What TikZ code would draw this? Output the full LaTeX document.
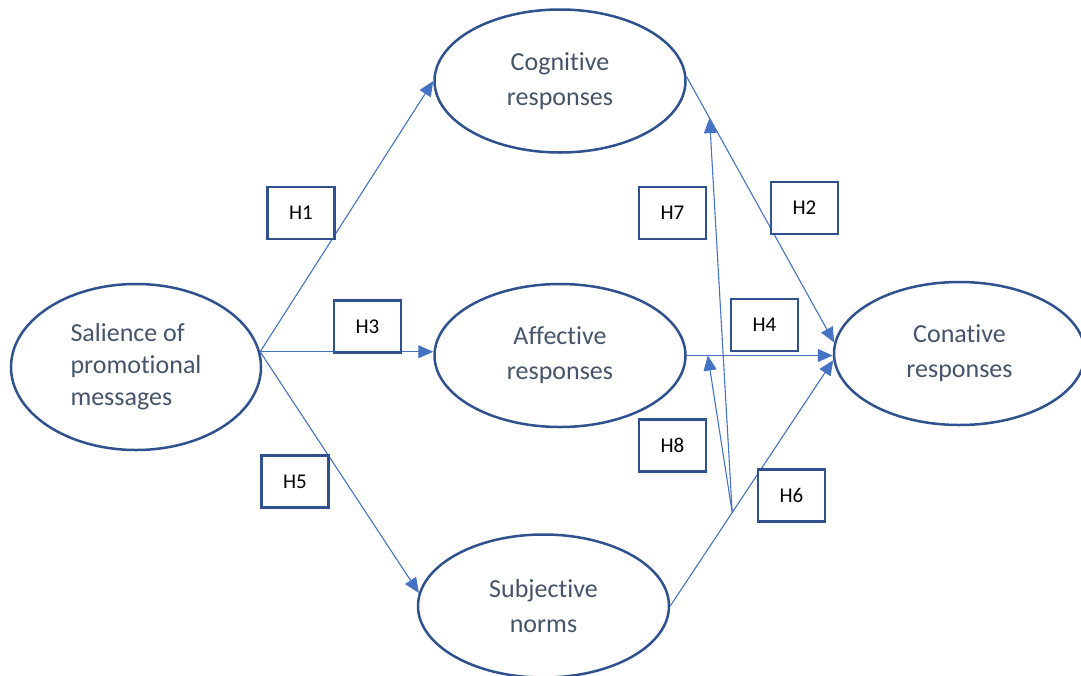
\documentclass[tikz,border=0pt]{standalone}
\usepackage{fontspec}
\setmainfont{Carlito}[Ligatures=NoCommon]
\usetikzlibrary{arrows.meta, shapes.geometric, positioning}
\definecolor{ringblue}{HTML}{2F528F}
\definecolor{arrowblue}{HTML}{4472C4}
\definecolor{labelgrey}{HTML}{44546A}

\begin{document}
\begin{tikzpicture}[x=1pt,y=-1pt,>={Triangle[length=15pt,width=13pt]},thick,
  resp node/.style={ellipse,draw=ringblue,line width=2.5pt,fill=white,text=labelgrey,minimum width=251pt,minimum height=143pt,inner sep=0pt,align=center,font=\fontsize{26}{35}\selectfont},
  hyp node/.style={rectangle,draw=ringblue,line width=2.5pt,fill=white,minimum width=67pt,minimum height=52pt,font=\fontsize{21}{25}\selectfont}]

  \useasboundingbox (0,0) rectangle (1081,675);

  \node[resp node,minimum width=250pt,minimum height=166pt,align=left,font=\fontsize{26}{32}\selectfont] (sal) at (136,367) {Salience of\\promotional\\messages};
  \node[resp node] (aff) at (560,355.5) {Affective\\responses};
  \node[resp node] (cog) [above=129pt of aff] {Cognitive\\responses};
  \node[resp node] (subj) [below=105pt of aff, xshift=-16.5pt] {Subjective\\norms};
  \node[resp node] (con) [right=146pt of aff, yshift=2pt] {Conative\\responses};

  \begin{scope}[->,draw=arrowblue,line width=1.1pt,color=arrowblue]
    \path (sal.7) edge (cog.west)
          (sal.7) edge (sal.7 -| aff.west)
          (sal.7) edge (subj.174);
    \draw (cog.2) -- coordinate[pos=0.156] (c2) (con.175);
    \draw (aff.east) -- coordinate[pos=0.144] (c4) (aff.east -| con.west);
    \draw (subj.east) -- coordinate[pos=0.38] (m) (con.183);
    \path (m) edge (c2)
          (m) edge (c4);
  \end{scope}

  \node[hyp node] (h1) at (301,213) {H1};
  \node[hyp node] (h3) at (367.5,326.5) {H3};
  \node[hyp node] (h5) at (295,481.5) {H5};
  \node[hyp node] (h7) at (672.5,213) {H7};
  \node[hyp node] (h2) at (804.5,208) {H2};
  \node[hyp node] (h4) at (764.5,325) {H4};
  \node[hyp node] (h8) at (672.5,445.5) {H8};
  \node[hyp node] (h6) at (791.5,495.5) {H6};
\end{tikzpicture}
\end{document}
